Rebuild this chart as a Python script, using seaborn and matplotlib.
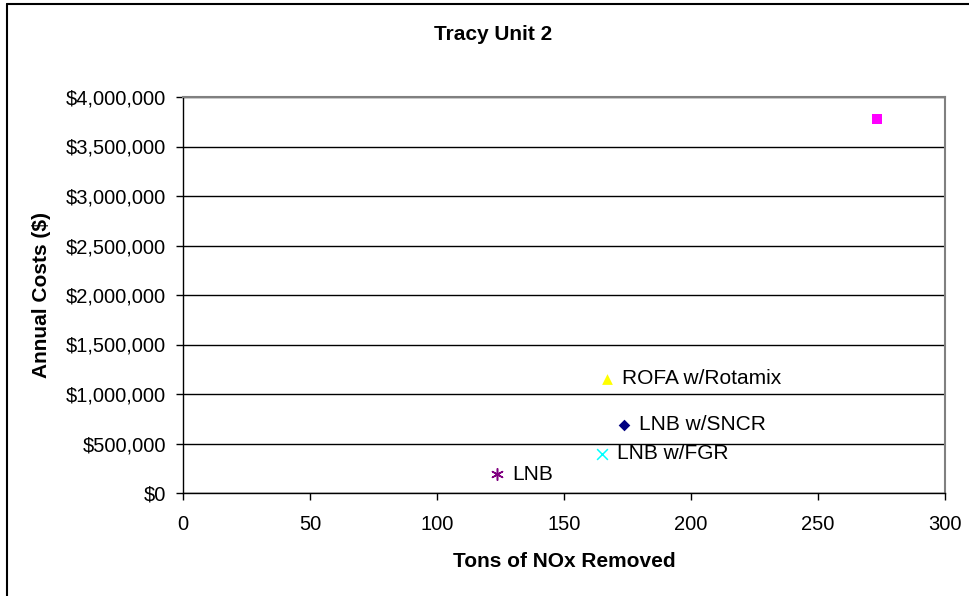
import matplotlib
matplotlib.use("Agg")
import matplotlib.pyplot as plt
from matplotlib.lines import Line2D
from matplotlib.ticker import FuncFormatter
import seaborn as sns
import pandas as pd

# Control options: tons removed vs. annual cost
options = ["LNB", "LNB w/FGR", "LNB w/SNCR", "ROFA w/Rotamix", ""]
tons_removed = [123.7, 164.8, 173.6, 166.8, 273.2]
annual_costs = [190000, 397000, 687000, 1152000, 3778000]
marker_styles = [(6, 2, 0), "x", "D", "^", "s"]
marker_colors = ["#800080", "#00FFFF", "#000080", "#FFFF00", "#FF00FF"]
marker_sizes = [70, 60, 35, 60, 45]

x_ticks = [0, 50, 100, 150, 200, 250, 300]
y_ticks = [0, 500000, 1000000, 1500000, 2000000, 2500000, 3000000, 3500000, 4000000]

df = pd.DataFrame({"option": options, "tons": tons_removed, "cost": annual_costs})

sns.set_theme(style="white")
plt.rcParams["font.family"] = ["Liberation Sans", "DejaVu Sans"]
plt.rcParams["text.color"] = "black"
plt.rcParams["axes.labelcolor"] = "black"
plt.rcParams["xtick.color"] = "black"
plt.rcParams["ytick.color"] = "black"

fig = plt.figure(figsize=(9.69, 5.96), dpi=100)
ax = fig.add_axes([183 / 969, 1 - 493 / 596, (945 - 183) / 969, (493 - 97) / 596])

for i, row in df.iterrows():
    m = marker_styles[i]
    filled = m in ("D", "^", "s")
    sns.scatterplot(
        data=df.iloc[[i]], x="tons", y="cost", ax=ax,
        marker=m, s=marker_sizes[i], color=marker_colors[i],
        edgecolor=marker_colors[i] if filled else None,
        linewidth=0 if filled else 1.1, legend=False, zorder=3,
    )
    if row["option"]:
        ax.annotate(row["option"], (row["tons"], row["cost"]),
                    xytext=(11, 0), textcoords="offset points",
                    ha="left", va="center", fontsize=15, color="black")

ax.set_xlim(0, 300)
ax.set_ylim(0, 4000000)
ax.set_xticks(x_ticks)
ax.set_yticks(y_ticks)
ax.yaxis.set_major_formatter(FuncFormatter(lambda v, p: f"${v:,.0f}"))

ax.grid(axis="y", color="black", linewidth=1)
ax.grid(axis="x", visible=False)
ax.set_axisbelow(True)

for side in ("left", "bottom"):
    ax.spines[side].set_color("black")
    ax.spines[side].set_linewidth(1)
for side in ("top", "right"):
    ax.spines[side].set_color("#808080")
    ax.spines[side].set_linewidth(1.5)

ax.tick_params(axis="both", which="major", direction="out", length=5, width=1,
               color="black", labelsize=14.5, labelcolor="black")
ax.tick_params(axis="y", pad=7, left=True)
ax.tick_params(axis="x", pad=11, bottom=True)

ax.set_xlabel("Tons of NOx Removed", fontsize=15, fontweight="bold", labelpad=13)
ax.set_ylabel("Annual Costs ($)", fontsize=15, fontweight="bold", labelpad=11)

fig.text(493 / 969, 1 - 34 / 596, "Tracy Unit 2", ha="center", va="center",
         fontsize=15, fontweight="bold")

# chart border along the left and top edges
fig.add_artist(Line2D([7 / 969, 7 / 969], [0, 1 - 3.5 / 596], transform=fig.transFigure,
                      color="black", linewidth=1.5))
fig.add_artist(Line2D([7 / 969, 1], [1 - 3.5 / 596, 1 - 3.5 / 596], transform=fig.transFigure,
                      color="black", linewidth=1.5))

fig.savefig("out.png", dpi=100, facecolor="white")
